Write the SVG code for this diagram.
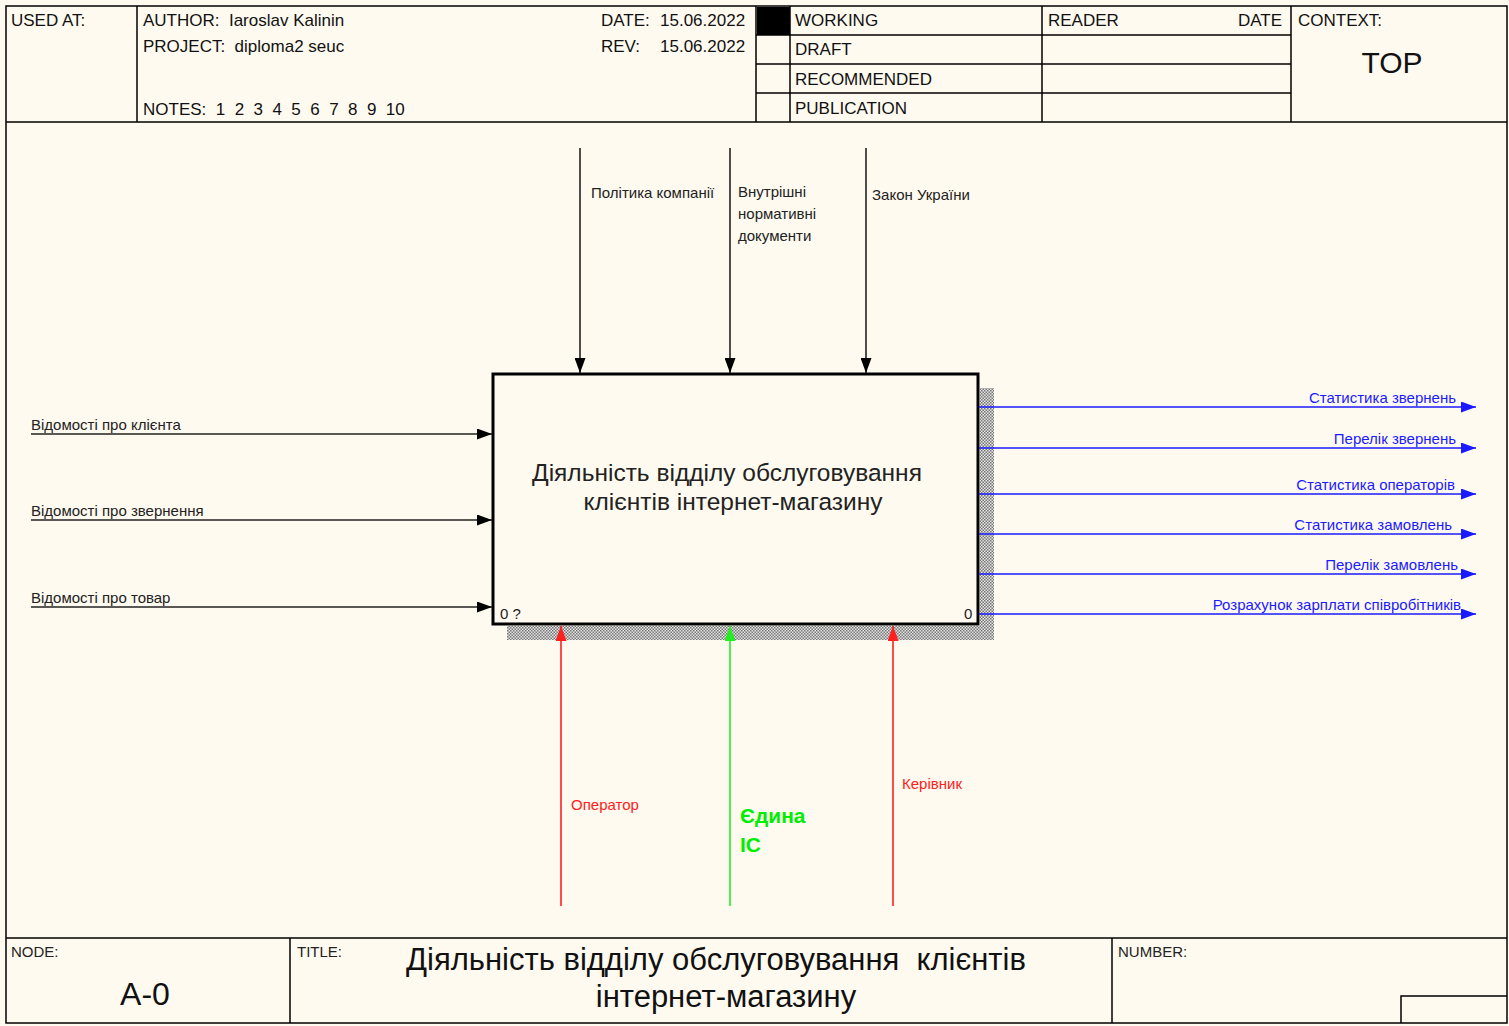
<svg xmlns="http://www.w3.org/2000/svg" width="1509" height="1026" viewBox="0 0 1509 1026">
<defs>
<style>
.frame{fill:none;stroke:#000;stroke-width:1.5}
.hdr{font-family:"Liberation Sans",Arial,sans-serif;font-size:17px;fill:#111}
.lbl{font-family:"Liberation Sans",Arial,sans-serif;font-size:15px;fill:#222}
.out{font-family:"Liberation Sans",Arial,sans-serif;font-size:15px;fill:#1a1aff}
.red{font-family:"Liberation Sans",Arial,sans-serif;font-size:15px;fill:#ff2020}
.grn{font-family:"Liberation Sans",Arial,sans-serif;font-size:21px;font-weight:bold;fill:#00ee00}
.ttl{font-family:"Liberation Sans",Arial,sans-serif;font-size:24.5px;fill:#222}
.big{font-family:"Liberation Sans",Arial,sans-serif;font-size:31px;fill:#111}
.blk{stroke:#222;stroke-width:1.6;fill:none}
.blu{stroke:#1a1aff;stroke-width:1.6;fill:none}
.rd{stroke:#ff2020;stroke-width:1.6;fill:none}
.gr{stroke:#22ee22;stroke-width:1.6;fill:none}
</style>
<pattern id="hatch" width="3" height="3" patternUnits="userSpaceOnUse">
<rect width="3" height="3" fill="#e4e4e4"/>
<rect width="1.5" height="1.5" fill="#777"/>
<rect x="1.5" y="1.5" width="1.5" height="1.5" fill="#777"/>
</pattern>
<marker id="ab" markerWidth="15" markerHeight="11" refX="15" refY="5.5" orient="auto" markerUnits="userSpaceOnUse"><path d="M0,0 L15,5.5 L0,11 Z" fill="#000"/></marker>
<marker id="au" markerWidth="15" markerHeight="11" refX="15" refY="5.5" orient="auto" markerUnits="userSpaceOnUse"><path d="M0,0 L15,5.5 L0,11 Z" fill="#1a1aff"/></marker>
<marker id="ar" markerWidth="15" markerHeight="11" refX="15" refY="5.5" orient="auto" markerUnits="userSpaceOnUse"><path d="M0,0 L15,5.5 L0,11 Z" fill="#ff2020"/></marker>
<marker id="ag" markerWidth="15" markerHeight="11" refX="15" refY="5.5" orient="auto" markerUnits="userSpaceOnUse"><path d="M0,0 L15,5.5 L0,11 Z" fill="#22ee22"/></marker>
</defs>
<rect width="1509" height="1026" fill="#fffaf0"/>

<g id="frame">
<rect class="frame" x="6" y="6" width="1501" height="1017"/>
<line class="frame" x1="6" y1="122" x2="1507" y2="122"/>
<line class="frame" x1="137" y1="6" x2="137" y2="122"/>
<line class="frame" x1="756" y1="6" x2="756" y2="122"/>
<line class="frame" x1="790" y1="6" x2="790" y2="122"/>
<line class="frame" x1="1042" y1="6" x2="1042" y2="122"/>
<line class="frame" x1="1291" y1="6" x2="1291" y2="122"/>
<line class="frame" x1="756" y1="35" x2="1291" y2="35"/>
<line class="frame" x1="756" y1="64" x2="1291" y2="64"/>
<line class="frame" x1="756" y1="93" x2="1291" y2="93"/>
<rect x="757" y="7" width="33" height="28" fill="#000"/>
<line class="frame" x1="6" y1="938" x2="1507" y2="938"/>
<line class="frame" x1="290" y1="938" x2="290" y2="1023"/>
<line class="frame" x1="1112" y1="938" x2="1112" y2="1023"/>
<polyline class="frame" points="1401,1023 1401,996 1507,996"/>
</g>

<g id="header-text">
<text class="hdr" x="11" y="26">USED AT:</text>
<text class="hdr" x="143" y="26" xml:space="preserve">AUTHOR:  Iaroslav Kalinin</text>
<text class="hdr" x="143" y="52" xml:space="preserve">PROJECT:  diploma2 seuc</text>
<text class="hdr" x="143" y="115" xml:space="preserve">NOTES:  1  2  3  4  5  6  7  8  9  10</text>
<text class="hdr" x="601" y="26">DATE:</text>
<text class="hdr" x="660" y="26">15.06.2022</text>
<text class="hdr" x="601" y="52">REV:</text>
<text class="hdr" x="660" y="52">15.06.2022</text>
<text class="hdr" x="795" y="26">WORKING</text>
<text class="hdr" x="795" y="55">DRAFT</text>
<text class="hdr" x="795" y="85">RECOMMENDED</text>
<text class="hdr" x="795" y="114">PUBLICATION</text>
<text class="hdr" x="1048" y="26">READER</text>
<text class="hdr" x="1282" y="26" text-anchor="end">DATE</text>
<text class="hdr" x="1298" y="26">CONTEXT:</text>
<text class="big" x="1392" y="73" text-anchor="middle" style="font-size:30px">TOP</text>
</g>

<g id="footer-text">
<text class="lbl" x="11" y="957">NODE:</text>
<text class="big" x="145" y="1005" text-anchor="middle" style="font-size:32px">A-0</text>
<text class="lbl" x="297" y="957">TITLE:</text>
<text class="big" x="716" y="970" text-anchor="middle" xml:space="preserve">Діяльність відділу обслуговування  клієнтів</text>
<text class="big" x="726" y="1007" text-anchor="middle">інтернет-магазину</text>
<text class="lbl" x="1118" y="957">NUMBER:</text>
</g>

<g id="node-A0">
<rect x="980" y="388" width="14" height="252" fill="url(#hatch)"/>
<rect x="507" y="626" width="487" height="14" fill="url(#hatch)"/>
<rect x="493" y="374" width="485" height="250" fill="#fffaf0" stroke="#000" stroke-width="3"/>
<text class="ttl" x="727" y="481" text-anchor="middle">Діяльність відділу обслуговування</text>
<text class="ttl" x="733" y="510" text-anchor="middle">клієнтів інтернет-магазину</text>
<text class="lbl" x="500" y="619">0 ?</text>
<text class="lbl" x="964" y="619">0</text>
</g>

<g id="connectors">
<line class="blk" x1="580" y1="148" x2="580" y2="373" marker-end="url(#ab)"/>
<line class="blk" x1="730" y1="148" x2="730" y2="373" marker-end="url(#ab)"/>
<line class="blk" x1="866" y1="148" x2="866" y2="373" marker-end="url(#ab)"/>
<text class="lbl" x="591" y="198">Політика компанії</text>
<text class="lbl" x="738" y="197">Внутрішні</text>
<text class="lbl" x="738" y="219">нормативні</text>
<text class="lbl" x="738" y="241">документи</text>
<text class="lbl" x="872" y="200">Закон України</text>

<line class="blk" x1="31" y1="434" x2="492" y2="434" marker-end="url(#ab)"/>
<line class="blk" x1="31" y1="520" x2="492" y2="520" marker-end="url(#ab)"/>
<line class="blk" x1="31" y1="607" x2="492" y2="607" marker-end="url(#ab)"/>
<text class="lbl" x="31" y="430">Відомості про клієнта</text>
<text class="lbl" x="31" y="516">Відомості про звернення</text>
<text class="lbl" x="31" y="603">Відомості про товар</text>

<line class="blu" x1="979" y1="407" x2="1476" y2="407" marker-end="url(#au)"/>
<line class="blu" x1="979" y1="448" x2="1476" y2="448" marker-end="url(#au)"/>
<line class="blu" x1="979" y1="494" x2="1476" y2="494" marker-end="url(#au)"/>
<line class="blu" x1="979" y1="534" x2="1476" y2="534" marker-end="url(#au)"/>
<line class="blu" x1="979" y1="574" x2="1476" y2="574" marker-end="url(#au)"/>
<line class="blu" x1="979" y1="614" x2="1476" y2="614" marker-end="url(#au)"/>
<text class="out" x="1456" y="403" text-anchor="end">Статистика звернень</text>
<text class="out" x="1456" y="444" text-anchor="end">Перелік звернень</text>
<text class="out" x="1455" y="490" text-anchor="end">Статистика операторів</text>
<text class="out" x="1452" y="530" text-anchor="end">Статистика замовлень</text>
<text class="out" x="1458" y="570" text-anchor="end">Перелік замовлень</text>
<text class="out" x="1461" y="610" text-anchor="end">Розрахунок зарплати співробітників</text>

<line class="rd" x1="561" y1="906" x2="561" y2="626" marker-end="url(#ar)"/>
<line class="gr" x1="730" y1="906" x2="730" y2="626" marker-end="url(#ag)"/>
<line class="rd" x1="893" y1="906" x2="893" y2="626" marker-end="url(#ar)"/>
<text class="red" x="571" y="810">Оператор</text>
<text class="grn" x="740" y="823">Єдина</text>
<text class="grn" x="740" y="852">ІС</text>
<text class="red" x="902" y="789">Керівник</text>
</g>
</svg>
